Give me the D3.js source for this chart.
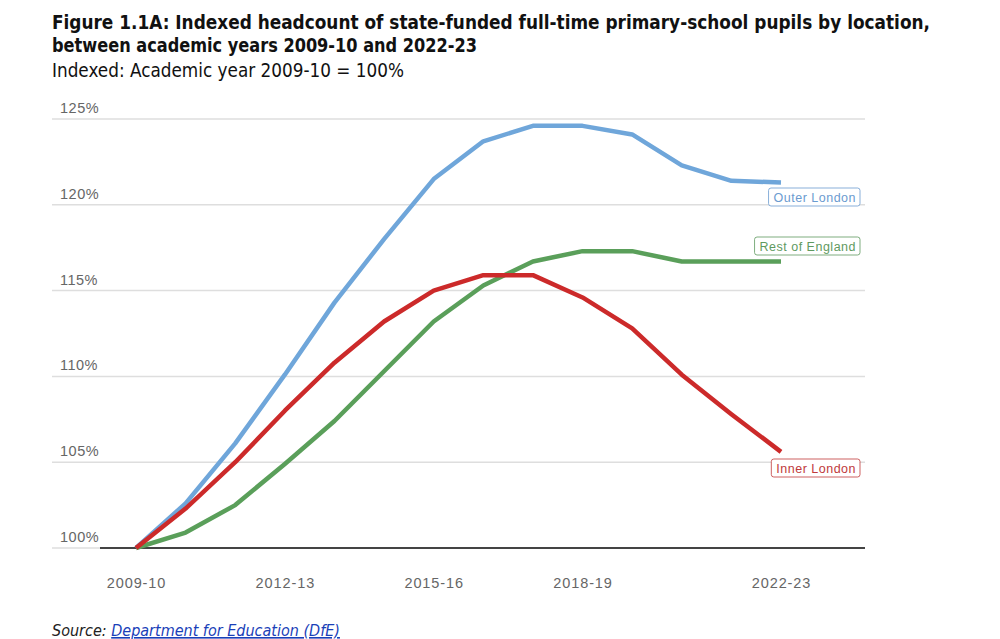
<!DOCTYPE html>
<html><head><meta charset="utf-8">
<script src="https://cdn.jsdelivr.net/npm/d3@7"></script>
<style>
body{margin:0;background:#fff;}
svg{display:block;}
</style></head>
<body>
<svg id="chart" width="1000" height="639"></svg>
<script>
const years = ["2009-10","2010-11","2011-12","2012-13","2013-14","2014-15","2015-16","2016-17","2017-18","2018-19","2019-20","2020-21","2021-22","2022-23"];
const tickYears = ["2009-10","2012-13","2015-16","2018-19","2022-23"];
const yTicks = [100,105,110,115,120,125];
const outerLondon = [100,102.6,106.1,110.1,114.3,118.0,121.5,123.7,124.6,124.6,124.1,122.3,121.4,121.3];
const innerLondon = [100,102.3,105.0,108.0,110.8,113.2,115.0,115.9,115.9,114.6,112.8,110.1,107.8,105.6];
const restOfEngland = [100,100.9,102.5,104.9,107.4,110.3,113.2,115.3,116.7,117.3,117.3,116.7,116.7,116.7];
const seriesNames = ["Outer London","Rest of England","Inner London"];
const seriesColors = ["#6fa6da","#5a9f5a","#cc2a2a"];
const labelColors = ["#6b9bd0","#5f9a5f","#c0393b"];

const svg = d3.select("#chart");
const x = d3.scalePoint().domain(years).range([136,781]);
const y = d3.scaleLinear().domain([100,125]).range([548,119]);

// Titles
const tf = "'Liberation Sans Narrow','DejaVu Sans Condensed','Liberation Sans',sans-serif";
svg.append("text").attr("x",52).attr("y",29).attr("font-family",tf).attr("font-weight","bold").attr("font-size",20).attr("fill","#111")
  .attr("textLength",878).attr("lengthAdjust","spacingAndGlyphs")
  .text("Figure 1.1A: Indexed headcount of state-funded full-time primary-school pupils by location,");
svg.append("text").attr("x",52).attr("y",52).attr("font-family",tf).attr("font-weight","bold").attr("font-size",20).attr("fill","#111")
  .attr("textLength",425).attr("lengthAdjust","spacingAndGlyphs")
  .text("between academic years 2009-10 and 2022-23");
svg.append("text").attr("x",52).attr("y",77).attr("font-family",tf).attr("font-size",19).attr("fill","#111")
  .attr("textLength",352).attr("lengthAdjust","spacingAndGlyphs")
  .text("Indexed: Academic year 2009-10 = 100%");

// Gridlines + y labels
const g = svg.append("g");
yTicks.forEach(t=>{
  if(t!==100){
    g.append("line").attr("x1",52).attr("x2",865).attr("y1",y(t)).attr("y2",y(t)).attr("stroke","#dedede").attr("stroke-width",1.5);
  } else {
    g.append("line").attr("x1",52).attr("x2",100).attr("y1",y(t)).attr("y2",y(t)).attr("stroke","#dedede").attr("stroke-width",1.5);
  }
  g.append("text").attr("x",60).attr("y",y(t)-6).attr("font-family","'Liberation Sans',Arial,sans-serif").attr("font-size",14.5)
    .attr("letter-spacing",0.5).attr("fill","#666").text(t+"%");
});
// x axis baseline
const xAxis = d3.axisBottom(x).tickValues(tickYears).tickSize(0).tickPadding(30);
const ax = svg.append("g").attr("transform",`translate(0,${y(100)})`).call(xAxis);
ax.select(".domain").remove();
ax.append("line").attr("x1",100).attr("x2",865).attr("y1",0).attr("y2",0).attr("stroke","#444").attr("stroke-width",2);
ax.selectAll(".tick text").attr("font-family","'Liberation Sans',Arial,sans-serif").attr("font-size",14.5)
  .attr("letter-spacing",0.9).attr("fill","#666");

// Lines
const line = d3.line().x((d,i)=>x(years[i])).y(d=>y(d));
const data = [outerLondon,restOfEngland,innerLondon];
data.forEach((s,i)=>{
  svg.append("path").datum(s).attr("d",line).attr("fill","none").attr("stroke",seriesColors[i]).attr("stroke-width",4.5).attr("stroke-linejoin","round");
});

// Labels
const labelY = [197,246,468];
seriesNames.forEach((n,i)=>{
  const lg = svg.append("g");
  const t = lg.append("text").attr("x",856).attr("y",labelY[i]+4.5).attr("text-anchor","end")
    .attr("font-family","'Liberation Sans',Arial,sans-serif").attr("font-size",12.5).attr("letter-spacing",0.5)
    .attr("fill",labelColors[i]).text(n);
  const bb = t.node().getBBox();
  lg.insert("rect","text").attr("x",bb.x-5).attr("y",labelY[i]-9).attr("width",bb.width+9).attr("height",18)
    .attr("rx",2.5).attr("fill","#fff").attr("stroke",labelColors[i]).attr("stroke-width",1).attr("stroke-opacity",0.8);
});

// Source
const src = svg.append("text").attr("x",52).attr("y",636).attr("font-family",tf).attr("font-size",16).attr("font-style","italic");
src.append("tspan").attr("fill","#222").text("Source: ");
src.append("tspan").attr("fill","#1a3fb8").attr("text-decoration","underline").text("Department for Education (DfE)");
</script>
</body></html>
